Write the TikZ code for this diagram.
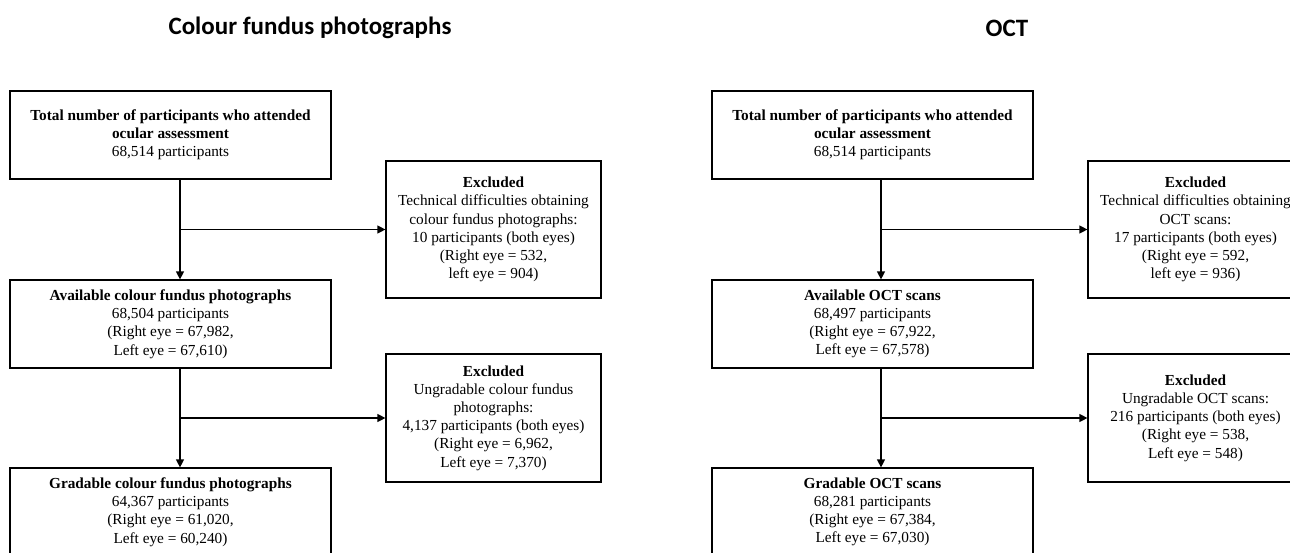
\documentclass[tikz,border=0pt]{standalone}
\usepackage{fontspec}
\setmainfont{Liberation Serif}
\newfontfamily\headfont{Carlito}
\usetikzlibrary{arrows.meta}

\begin{document}
\begin{tikzpicture}[
        x=1pt, y=-1pt,
        stage/.style={rectangle, draw=black, line width=1.2pt, minimum width=321pt, minimum height=88pt, inner sep=2pt, align=center, font=\fontsize{15.3}{18.2}\selectfont},
        excluded/.style={rectangle, draw=black, line width=1.2pt, minimum width=215pt, inner sep=2pt, align=center, font=\fontsize{15.3}{18.2}\selectfont},
        heading/.style={font=\headfont\bfseries\fontsize{25}{30}\selectfont},
        flow/.style={-{Triangle[length=8pt, width=8pt]}, line width=1.2pt}
    ]
    \useasboundingbox (0,0) rectangle (1290,552);

    % Headings
    \node[heading] (ttlA) at (310, 28) {Colour fundus photographs};
    \node[heading] (ttlB) at (1007, 28) {OCT};

    % Colour fundus photographs
    \node[stage] (totA) at (170.5, 135) {\textbf{Total number of participants who attended}\\ \textbf{ocular assessment}\\ 68,514 participants};
    \node[stage] (avlA) at (170.5, 324) {\textbf{Available colour fundus photographs}\\ 68,504 participants\\ (Right eye = 67,982,\\ Left eye = 67,610)};
    \node[stage] (grdA) at (170.5, 512) {\textbf{Gradable colour fundus photographs}\\ 64,367 participants\\ (Right eye = 61,020,\\ Left eye = 60,240)};
    \node[excluded, minimum height=137pt] (exA1) at (493.5, 229.5) {\textbf{Excluded}\\ Technical difficulties obtaining\\ colour fundus photographs:\\ 10 participants (both eyes)\\ (Right eye = 532,\\ left eye = 904)};
    \node[excluded, minimum height=128pt] (exA2) at (493.5, 418) {\textbf{Excluded}\\ Ungradable colour fundus\\ photographs:\\ 4,137 participants (both eyes)\\ (Right eye = 6,962,\\ Left eye = 7,370)};

    % OCT
    \node[stage] (totB) at (872.5, 135) {\textbf{Total number of participants who attended}\\ \textbf{ocular assessment}\\ 68,514 participants};
    \node[stage] (avlB) at (872.5, 324) {\textbf{Available OCT scans}\\ 68,497 participants\\ (Right eye = 67,922,\\ Left eye = 67,578)};
    \node[stage] (grdB) at (872.5, 512) {\textbf{Gradable OCT scans}\\ 68,281 participants\\ (Right eye = 67,384,\\ Left eye = 67,030)};
    \node[excluded, minimum height=137pt] (exB1) at (1195.5, 229.5) {\textbf{Excluded}\\ Technical difficulties obtaining\\ OCT scans:\\ 17 participants (both eyes)\\ (Right eye = 592,\\ left eye = 936)};
    \node[excluded, minimum height=128pt] (exB2) at (1195.5, 418) {\textbf{Excluded}\\ Ungradable OCT scans:\\ 216 participants (both eyes)\\ (Right eye = 538,\\ Left eye = 548)};

    % Flows
    \draw[flow] ([xshift=9.5]totA.south) -- ([xshift=9.5]avlA.north);
    \draw[flow] ([xshift=9.5]avlA.south) -- ([xshift=9.5]grdA.north);
    \draw[flow] ([xshift=9.5]totA.south |- exA1.west) -- (exA1.west);
    \draw[flow] ([xshift=9.5]avlA.south |- exA2.west) -- (exA2.west);

    \draw[flow] ([xshift=8.5]totB.south) -- ([xshift=8.5]avlB.north);
    \draw[flow] ([xshift=8.5]avlB.south) -- ([xshift=8.5]grdB.north);
    \draw[flow] ([xshift=8.5]totB.south |- exB1.west) -- (exB1.west);
    \draw[flow] ([xshift=8.5]avlB.south |- exB2.west) -- (exB2.west);

\end{tikzpicture}
\end{document}
